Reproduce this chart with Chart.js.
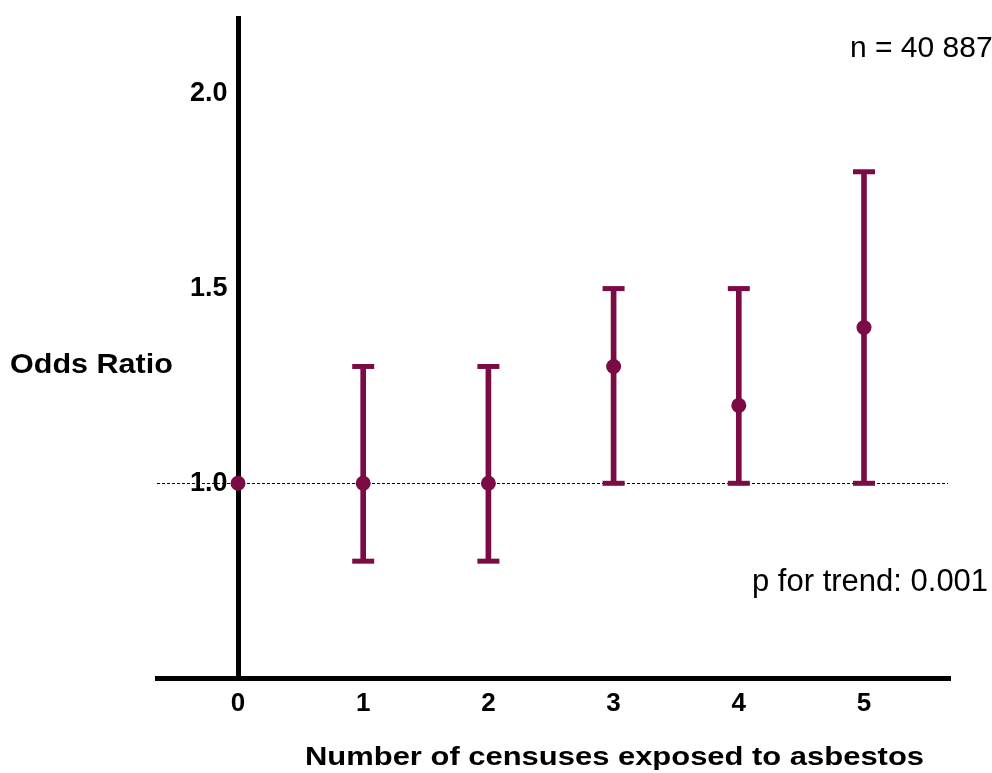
<!DOCTYPE html>
<html>
<head>
<meta charset="utf-8">
<script src="https://cdn.jsdelivr.net/npm/chart.js@4/dist/chart.umd.min.js"></script>
<style>
  html, body { margin: 0; padding: 0; background: #ffffff; }
  #wrap { width: 992px; height: 773px; position: relative; }
</style>
</head>
<body>
<div id="wrap"><canvas id="c"></canvas></div>
<script>
// ---- data ----
const categories = [0, 1, 2, 3, 4, 5];
const oddsRatio  = [1.0, 1.0, 1.0, 1.3, 1.2, 1.4];
const ciLower    = [null, 0.8, 0.8, 1.0, 1.0, 1.0];
const ciUpper    = [null, 1.3, 1.3, 1.5, 1.5, 1.8];
const yTicks     = [1.0, 1.5, 2.0];
const referenceLine = 1.0;
const xTitle = 'Number of censuses exposed to asbestos';
const yTitle = 'Odds Ratio';
const noteN = 'n = 40 887';
const noteP = 'p for trend: 0.001';

const MAROON = '#7B0B45';
const FONT = '"Liberation Sans", Arial, Helvetica, sans-serif';

const meanPoints = categories.map((c, i) => ({ x: c, y: oddsRatio[i] }));
const barData = [];
const capData = [];
categories.forEach((c, i) => {
  if (ciLower[i] !== null && ciUpper[i] !== null) {
    barData.push({ x: c, y: [ciLower[i], ciUpper[i]] });
    capData.push({ x: c, y: ciLower[i] });
    capData.push({ x: c, y: ciUpper[i] });
  }
});

const textPlugin = {
  id: 'texts',
  afterDraw(chart) {
    const ctx = chart.ctx;
    const items = [
      { t: yTitle, x: 10, y: 373, font: 'bold 28px ' + FONT, sx: 1.09 },
      { t: xTitle, x: 305, y: 765, font: 'bold 26px ' + FONT, sx: 1.19 },
      { t: noteN, x: 850, y: 57, font: '30px ' + FONT, sx: 1 },
      { t: noteP, x: 752, y: 591, font: '31px ' + FONT, sx: 1 }
    ];
    items.forEach(it => {
      ctx.save();
      ctx.font = it.font;
      ctx.fillStyle = '#000';
      ctx.textAlign = 'left';
      ctx.textBaseline = 'alphabetic';
      ctx.translate(it.x, it.y);
      ctx.scale(it.sx, 1);
      ctx.fillText(it.t, 0, 0);
      ctx.restore();
    });
  }
};

new Chart(document.getElementById('c'), {
  type: 'scatter',
  data: {
    datasets: [
      {
        type: 'bar',
        data: barData,
        backgroundColor: MAROON,
        borderWidth: 0,
        barThickness: 5,
        grouped: false,
        order: 3
      },
      {
        type: 'scatter',
        data: capData,
        pointStyle: 'line',
        pointRadius: 11,
        borderWidth: 5,
        borderColor: MAROON,
        backgroundColor: MAROON,
        order: 2
      },
      {
        type: 'scatter',
        data: meanPoints,
        pointStyle: 'circle',
        pointRadius: 7.5,
        borderWidth: 0,
        backgroundColor: MAROON,
        borderColor: MAROON,
        order: 1
      }
    ]
  },
  options: {
    responsive: true,
    maintainAspectRatio: false,
    animation: false,
    layout: { padding: { left: 124, right: 44, top: 14, bottom: 0 } },
    plugins: { legend: { display: false }, tooltip: { enabled: false } },
    scales: {
      x: {
        type: 'linear',
        offset: false,
        min: -0.647,
        max: 5.671,
        afterBuildTicks: s => { s.ticks = categories.map(v => ({ value: v })); },
        afterFit: s => { s.height = 95; s.paddingLeft = 0; s.paddingRight = 0; },
        border: { display: true, color: '#000', width: 5 },
        grid: {
          offset: false,
          drawTicks: false,
          color: c => (c.tick && c.tick.value === 0) ? '#000' : 'rgba(0,0,0,0)',
          lineWidth: c => (c.tick && c.tick.value === 0) ? 5 : 0
        },
        ticks: {
          padding: 10,
          color: '#000',
          font: { family: FONT, size: 26, weight: 'bold' },
          callback: v => String(v)
        }
      },
      y: {
        type: 'linear',
        min: 0.5,
        max: 2.2,
        afterBuildTicks: s => { s.ticks = yTicks.map(v => ({ value: v })); },
        afterFit: s => { s.width = 33; s.paddingTop = 0; s.paddingBottom = 0; },
        border: { display: false, dash: [3, 2] },
        grid: {
          drawTicks: false,
          color: c => (c.tick && c.tick.value === referenceLine) ? '#000' : 'rgba(0,0,0,0)',
          lineWidth: c => (c.tick && c.tick.value === referenceLine) ? 1 : 0
        },
        ticks: {
          mirror: true,
          padding: 33,
          color: '#000',
          font: { family: FONT, size: 27, weight: 'bold' },
          callback: v => Number(v).toFixed(1)
        }
      }
    }
  },
  plugins: [textPlugin]
});
</script>
</body>
</html>
